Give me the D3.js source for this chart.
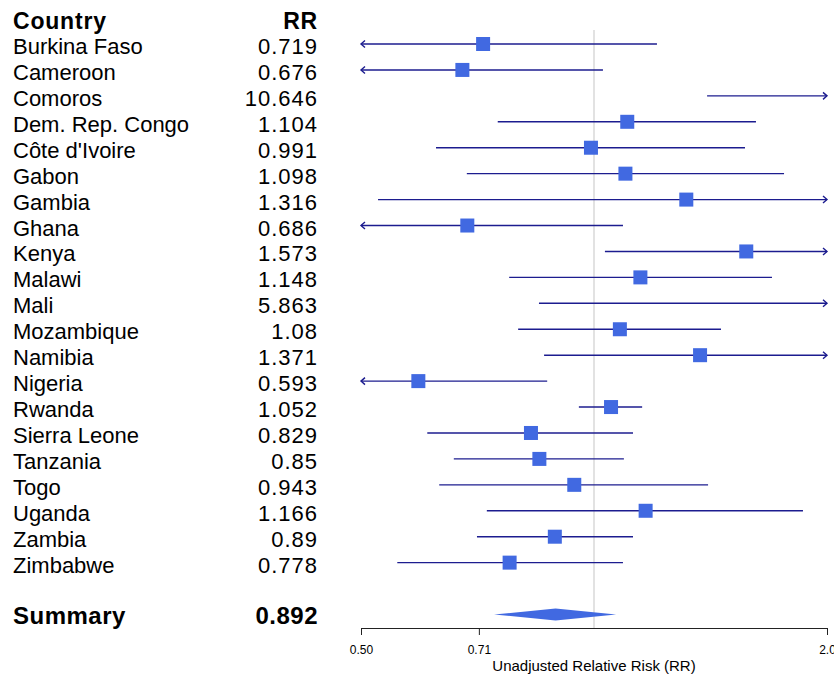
<!DOCTYPE html>
<html>
<head>
<meta charset="utf-8">
<script src="https://cdn.jsdelivr.net/npm/d3@7"></script>
<style>
body { margin:0; background:#fff; }
svg text { font-family: "Liberation Sans", Arial, Helvetica, sans-serif; fill:#000; }
</style>
</head>
<body>
<div id="chart"></div>
<script>
// data
var countries = ["Burkina Faso","Cameroon","Comoros","Dem. Rep. Congo","Côte d'Ivoire","Gabon","Gambia","Ghana","Kenya","Malawi","Mali","Mozambique","Namibia","Nigeria","Rwanda","Sierra Leone","Tanzania","Togo","Uganda","Zambia","Zimbabwe"];
var rrLabels  = ["0.719","0.676","10.646","1.104","0.991","1.098","1.316","0.686","1.573","1.148","5.863","1.08","1.371","0.593","1.052","0.829","0.85","0.943","1.166","0.89","0.778"];
var rr        = [0.719,0.676,10.646,1.104,0.991,1.098,1.316,0.686,1.573,1.148,5.863,1.08,1.371,0.593,1.052,0.829,0.85,0.943,1.166,0.89,0.778];
var lower     = [0.43,0.44,1.400,0.751,0.625,0.685,0.526,0.42,1.033,0.777,0.849,0.798,0.862,0.40,0.956,0.609,0.659,0.631,0.727,0.706,0.557];
var upper     = [1.206,1.027,60,1.619,1.567,1.760,3.29,1.090,2.40,1.698,40,1.459,2.18,0.870,1.154,1.123,1.093,1.404,1.862,1.123,1.090];
var summary   = { label:"Summary", rr:0.892, rrLabel:"0.892", lower:0.743, upper:1.068 };
var tickValues = [0.5, 0.71, 2.0];
var tickLabels = ["0.50","0.71","2.0"];
var axisTitle  = "Unadjusted Relative Risk (RR)";

var W = 834, H = 675;
var svg = d3.select('#chart').append('svg').attr('width', W).attr('height', H);

var x = d3.scaleLog().domain([0.5, 2.0]).range([361, 827]);
var y = d3.scaleLinear().domain([0, 22]).range([44, 614.5]);
var lineCol = '#1c1c8f', boxCol = '#4169e1', box = 14;

// reference line at 1
svg.append('line').attr('x1', x(1)).attr('x2', x(1)).attr('y1', 30).attr('y2', 628)
	.attr('stroke', '#cfcfcf').attr('stroke-width', 1.2);

// headers
svg.append('text').attr('x', 13).attr('y', y(-1)+10.5).attr('font-size', 23).attr('font-weight', 'bold')
	.attr('letter-spacing', 0.8).text('Country');
svg.append('text').attr('x', 318).attr('y', y(-1)+10.5).attr('font-size', 23).attr('font-weight', 'bold')
	.attr('letter-spacing', 0.8).attr('text-anchor', 'end').text('RR');

var rows = countries.map(function(c, i) { return { name:c, label:rrLabels[i], rr:rr[i], lo:lower[i], hi:upper[i], i:i }; });

var g = svg.selectAll('g.row').data(rows).enter().append('g').attr('class', 'row');
g.append('text').attr('x', 13).attr('y', function(d){ return y(d.i)+10; }).attr('font-size', 22).text(function(d){ return d.name; });
g.append('text').attr('x', 318).attr('y', function(d){ return y(d.i)+10; }).attr('font-size', 22).attr('letter-spacing', 1)
	.attr('text-anchor', 'end').text(function(d){ return d.label; });

var lo = x.domain()[0], hi = x.domain()[1];
g.append('line')
	.attr('x1', function(d){ return x(Math.max(d.lo, lo)); })
	.attr('x2', function(d){ return x(Math.min(d.hi, hi)); })
	.attr('y1', function(d){ return y(d.i); }).attr('y2', function(d){ return y(d.i); })
	.attr('stroke', lineCol).attr('stroke-width', 1.4);
// arrows where the interval runs off the axis
g.filter(function(d){ return d.lo < lo; }).append('path')
	.attr('d', function(d){ var px = x(lo), py = y(d.i); return 'M'+(px+4)+','+(py-3.5)+'L'+px+','+py+'L'+(px+4)+','+(py+3.5); })
	.attr('fill', 'none').attr('stroke', lineCol).attr('stroke-width', 1.4);
g.filter(function(d){ return d.hi > hi; }).append('path')
	.attr('d', function(d){ var px = x(hi), py = y(d.i); return 'M'+(px-4)+','+(py-3.5)+'L'+px+','+py+'L'+(px-4)+','+(py+3.5); })
	.attr('fill', 'none').attr('stroke', lineCol).attr('stroke-width', 1.4);
g.filter(function(d){ return d.rr >= lo && d.rr <= hi; }).append('rect')
	.attr('x', function(d){ return x(d.rr)-box/2; }).attr('y', function(d){ return y(d.i)-box/2; })
	.attr('width', box).attr('height', box).attr('fill', boxCol);

// summary
var sy = y(22);
svg.append('text').attr('x', 13).attr('y', sy+9).attr('font-size', 24).attr('font-weight', 'bold')
	.attr('letter-spacing', 0.5).text(summary.label);
svg.append('text').attr('x', 318).attr('y', sy+9).attr('font-size', 24).attr('font-weight', 'bold')
	.attr('letter-spacing', 0.5).attr('text-anchor', 'end').text(summary.rrLabel);
svg.append('path')
	.attr('d', 'M'+x(summary.lower)+','+sy+'L'+x(summary.rr)+','+(sy-6)+'L'+x(summary.upper)+','+sy+'L'+x(summary.rr)+','+(sy+6)+'Z')
	.attr('fill', boxCol);

// axis
var ax = svg.append('g').attr('transform', 'translate(0,628)')
	.call(d3.axisBottom(x).tickValues(tickValues).tickSizeOuter(0).tickSize(7)
		.tickFormat(function(d, i){ return tickLabels[i]; }));
ax.select('.domain').attr('stroke', '#222');
ax.selectAll('.tick line').attr('stroke', '#222');
ax.selectAll('.tick text').attr('font-size', 12).attr('font-family', '"Liberation Sans", Arial, sans-serif').attr('dy', '1.3em');
svg.append('text').attr('x', x(1)).attr('y', 671).attr('font-size', 15).attr('text-anchor', 'middle').text(axisTitle);
</script>
</body>
</html>
